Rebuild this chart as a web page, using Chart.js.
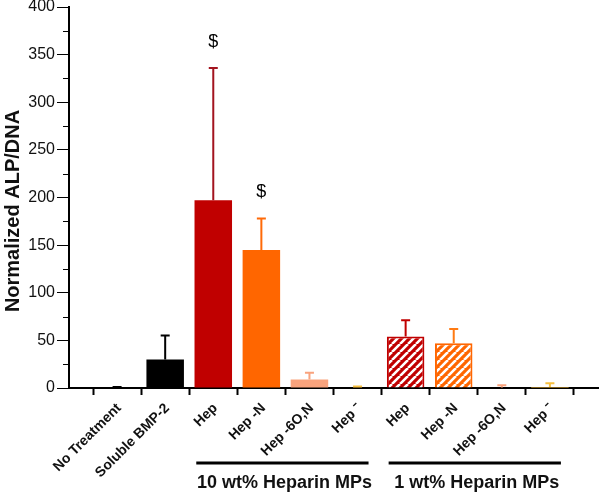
<!DOCTYPE html>
<html>
<head>
<meta charset="utf-8">
<script src="https://cdn.jsdelivr.net/npm/chart.js@4"></script>
<style>
html,body{margin:0;padding:0;background:#fff;}
#wrap{width:600px;height:493px;position:relative;}
</style>
</head>
<body>
<div id="wrap"><canvas id="c" width="600" height="493"></canvas></div>
<script>
// ---- data ----
const categories = ['No Treatment','Soluble BMP-2','Hep','Hep -N','Hep -6O,N','Hep \u207B','Hep','Hep -N','Hep -6O,N','Hep \u207B'];
const means      = [0.3, 30, 197, 145, 9, 0.6, 54, 47, 0.4, 1];
const errTops    = [1, 55, 336, 178, 16, 1.5, 71, 62, 3, 5];
const sigMarks   = ['', '', '$', '$', '', '', '', '', '', ''];
const groupNames = ['10 wt% Heparin MPs', '1 wt% Heparin MPs'];
const groupRanges = [[2,5],[6,9]];
const yTicks = [0,50,100,150,200,250,300,350,400];
const yMinorTicks = [25,75,125,175,225,275,325,375];
const yTitle = 'Normalized ALP/DNA';

// ---- styles ----
const FONT = '"Liberation Sans", Arial, sans-serif';
const fillColors = ['#000000','#000000','#c00000','#ff6600','#f9a37d','#ffc23a','#c00000','#ff6600','#f9a37d','#ffc23a'];
const errColors  = ['#000000','#000000','#a3141f','#ff6a08','#f9a37d','#f7c040','#c00000','#ff7a12','#f9a37d','#f7c040'];
const hatched    = [false,false,false,false,false,false,true,true,false,false];

function makeHatch(color){
  const s = 8;
  const c = document.createElement('canvas');
  c.width = s; c.height = s;
  const g = c.getContext('2d');
  g.fillStyle = color; g.fillRect(0,0,s,s);
  g.strokeStyle = '#ffffff'; g.lineWidth = 2.6;
  g.beginPath();
  for (let k=-1;k<=1;k++){ g.moveTo(k*s, s); g.lineTo(k*s+s, 0); }
  g.stroke();
  return document.createElement('canvas').getContext('2d').createPattern(c,'repeat');
}

const labels = [''].concat(categories).concat(['']);
const padded = [null].concat(means).concat([null]);
const bg = [null].concat(fillColors.map((c,i)=> hatched[i] ? makeHatch(c) : c)).concat([null]);
const bc = [null].concat(fillColors).concat([null]);
const bw = [0].concat(hatched.map(h=> h?2:0)).concat([0]);

const extras = {
  id:'extras',
  afterDatasetsDraw(chart){
    const ctx = chart.ctx, x = chart.scales.x, y = chart.scales.y;
    ctx.save();
    means.forEach((m,i)=>{
      const px = x.getPixelForValue(i+1);
      const y0 = y.getPixelForValue(m), y1 = y.getPixelForValue(errTops[i]);
      ctx.strokeStyle = errColors[i]; ctx.lineWidth = 2;
      ctx.beginPath();
      ctx.moveTo(px, y0); ctx.lineTo(px, y1);
      ctx.moveTo(px-4.5, y1); ctx.lineTo(px+4.5, y1);
      ctx.stroke();
      if (sigMarks[i]){
        ctx.fillStyle = '#000'; ctx.font = '18px ' + FONT;
        ctx.textAlign = 'center'; ctx.textBaseline = 'middle';
        ctx.fillText(sigMarks[i], px, y1 - 26);
      }
    });
    // minor y ticks
    ctx.strokeStyle = '#000'; ctx.lineWidth = 1;
    yMinorTicks.forEach(v=>{
      const py = Math.round(y.getPixelForValue(v))+0.5;
      ctx.beginPath(); ctx.moveTo(x.left-6, py); ctx.lineTo(x.left, py); ctx.stroke();
    });
    // y title
    ctx.save();
    ctx.translate(13, 211); ctx.rotate(-Math.PI/2);
    ctx.fillStyle = '#111'; ctx.font = 'bold 20px ' + FONT;
    ctx.textAlign = 'center'; ctx.textBaseline = 'middle';
    ctx.fillText(yTitle, 0, 0);
    ctx.restore();
    // group lines + labels
    groupRanges.forEach((r,gi)=>{
      const a = x.getPixelForValue(r[0]+1) - 17, b = x.getPixelForValue(r[1]+1) + 11;
      ctx.strokeStyle = '#000'; ctx.lineWidth = 3;
      ctx.beginPath(); ctx.moveTo(a, 463); ctx.lineTo(b, 463); ctx.stroke();
      ctx.fillStyle = '#111'; ctx.font = 'bold 18px ' + FONT;
      ctx.textAlign = 'center'; ctx.textBaseline = 'middle';
      ctx.fillText(groupNames[gi], (a+b)/2 + 2, 483);
    });
    ctx.restore();
  }
};

new Chart(document.getElementById('c'), {
  type:'bar',
  data:{ labels, datasets:[{ data: padded, backgroundColor: bg, borderColor: bc, borderWidth: bw,
    categoryPercentage:1, barPercentage:0.78 }]},
  options:{
    responsive:false, animation:false,
    layout:{ padding:{ top:7, right:2, bottom:0, left:0 } },
    plugins:{ legend:{display:false}, tooltip:{enabled:false} },
    scales:{
      x:{ offset:false,
        afterFit(s){ s.height = 105; s.paddingLeft = 0; s.paddingRight = 0; },
        grid:{ drawOnChartArea:false, tickLength:7, tickWidth:2, color:'#000', tickColor:'#000' },
        border:{ color:'#000', width:2 },
        ticks:{ autoSkip:false, maxRotation:45, minRotation:45, color:'#111', labelOffset:2,
          font:{ family:FONT, size:14, weight:'bold' }, padding:5 } },
      y:{ min:0, max:400,
        afterFit(s){ s.width = 69; s.paddingTop = 0; s.paddingBottom = 0; },
        afterBuildTicks(s){ s.ticks = yTicks.map(v=>({value:v})); },
        grid:{ drawOnChartArea:false, tickLength:12, tickColor:'#000' },
        border:{ color:'#000', width:2 },
        ticks:{ color:'#111', padding:2, font:{ family:FONT, size:16 } },
        title:{ display:false } }
    }
  },
  plugins:[extras]
});
</script>
</body>
</html>
